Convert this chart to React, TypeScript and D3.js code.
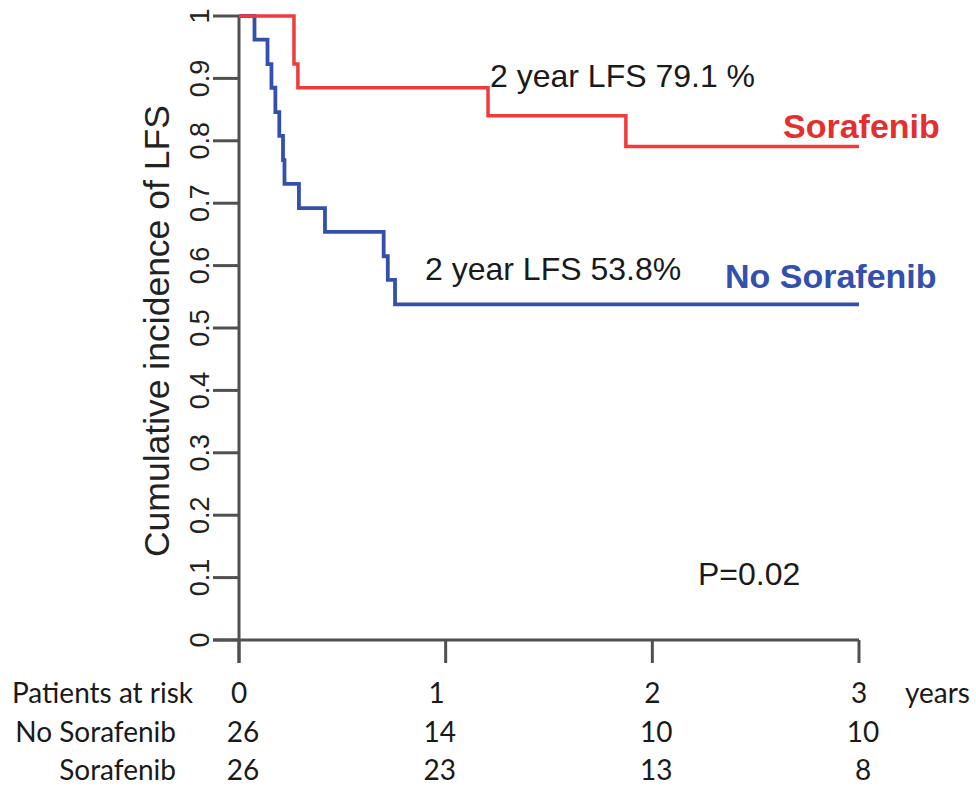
import React from "react";
import * as d3 from "d3";

// Kaplan–Meier style step data (time in years, cumulative LFS)
const noSorafenibTimes = [0, 0.075, 0.138, 0.157, 0.176, 0.195, 0.213, 0.22, 0.29, 0.416, 0.7, 0.72, 0.755, 3];
const noSorafenibValues = [1, 0.962, 0.923, 0.885, 0.846, 0.808, 0.769, 0.731, 0.692, 0.654, 0.615, 0.577, 0.538, 0.538];

const sorafenibTimes = [0, 0.266, 0.285, 1.205, 1.872, 3];
const sorafenibValues = [1, 0.923, 0.885, 0.84, 0.791, 0.791];

const yTicks = [0, 0.1, 0.2, 0.3, 0.4, 0.5, 0.6, 0.7, 0.8, 0.9, 1];
const yTickLabels = ["0", "0.1", "0.2", "0.3", "0.4", "0.5", "0.6", "0.7", "0.8", "0.9", "1"];
const xTicks = [0, 1, 2, 3];

const riskRowLabels = ["Patients at risk", "No Sorafenib", "Sorafenib"];
const riskYears = ["0", "1", "2", "3"];
const riskNoSorafenib = ["26", "14", "10", "10"];
const riskSorafenib = ["26", "23", "13", "8"];

const RED = "#ef3b3b";
const RED_TEXT = "#e3302e";
const BLUE = "#3450ad";
const AXIS = "#505050";
const ARIAL = "'Liberation Sans', Arial, sans-serif";
const TABLE_FONT = "Lato, 'Open Sans', sans-serif";

export default function App() {
  const x = d3.scaleLinear().domain([0, 3]).range([239, 859]);
  const y = d3.scaleLinear().domain([0, 1]).range([640, 16]);

  const step = d3
    .line<[number, number]>()
    .x((d) => x(d[0]))
    .y((d) => y(d[1]))
    .curve(d3.curveStepAfter);

  const blueData = noSorafenibTimes.map((t, i) => [t, noSorafenibValues[i]] as [number, number]);
  const redData = sorafenibTimes.map((t, i) => [t, sorafenibValues[i]] as [number, number]);

  const rowY = [703, 742, 780];

  return (
    <svg
      width={976}
      height={786}
      style={{ position: "absolute", left: 0, top: 0, background: "#fff" }}
    >
      {/* axes */}
      <g stroke={AXIS} strokeWidth={3} fill="none">
        <line x1={x(0)} x2={x(0)} y1={y(1)} y2={663} />
        <line x1={213} x2={x(3)} y1={y(0)} y2={y(0)} />
        {yTicks.map((v) => (
          <line key={"yt" + v} x1={213} x2={x(0)} y1={y(v)} y2={y(v)} />
        ))}
        {xTicks.map((v) => (
          <line key={"xt" + v} x1={x(v)} x2={x(v)} y1={y(0)} y2={663} />
        ))}
      </g>

      {/* y tick labels (rotated) */}
      <g fontFamily={ARIAL} fontSize={27} fill="#222" textAnchor="middle">
        {yTicks.map((v, i) => (
          <text key={"yl" + v} transform={`translate(209,${y(v)}) rotate(-90)`}>
            {yTickLabels[i]}
          </text>
        ))}
      </g>

      {/* y axis title */}
      <text
        transform={`translate(169,${y(0.495)}) rotate(-90)`}
        textAnchor="middle"
        fontFamily={ARIAL}
        fontSize={35.5}
        fill="#222"
      >
        Cumulative incidence of LFS
      </text>

      {/* survival curves */}
      <path d={step(blueData) || ""} fill="none" stroke={BLUE} strokeWidth={3.8} />
      <path d={step(redData) || ""} fill="none" stroke={RED} strokeWidth={3.5} />

      {/* annotations */}
      <g fontFamily={ARIAL} fontSize={32} fill="#1a1a1a">
        <text x={490} y={87}>2 year LFS 79.1 %</text>
        <text x={425} y={280}>2 year LFS 53.8%</text>
        <text x={698} y={585}>P=0.02</text>
      </g>
      <text x={783} y={138} fontFamily={ARIAL} fontSize={34} fontWeight="bold" fill={RED_TEXT}>
        Sorafenib
      </text>
      <text x={725} y={288} fontFamily={ARIAL} fontSize={34} fontWeight="bold" fill={BLUE}>
        No Sorafenib
      </text>

      {/* patients at risk table */}
      <g fontFamily={TABLE_FONT} fontSize={28} fill="#1a1a1a">
        <text x={12} y={rowY[0]}>{riskRowLabels[0]}</text>
        <text x={176} y={rowY[1]} textAnchor="end">{riskRowLabels[1]}</text>
        <text x={176} y={rowY[2]} textAnchor="end">{riskRowLabels[2]}</text>
        {xTicks.map((t, i) => (
          <g key={"risk" + t} textAnchor="middle">
            <text x={x(t) - (t === 1 ? 9 : 0)} y={rowY[0]}>{riskYears[i]}</text>
            <text x={x(t) + (t === 1 ? -6 : 4)} y={rowY[1]}>{riskNoSorafenib[i]}</text>
            <text x={x(t) + (t === 1 ? -6 : 4)} y={rowY[2]}>{riskSorafenib[i]}</text>
          </g>
        ))}
        <text x={905} y={rowY[0]}>years</text>
      </g>
    </svg>
  );
}
